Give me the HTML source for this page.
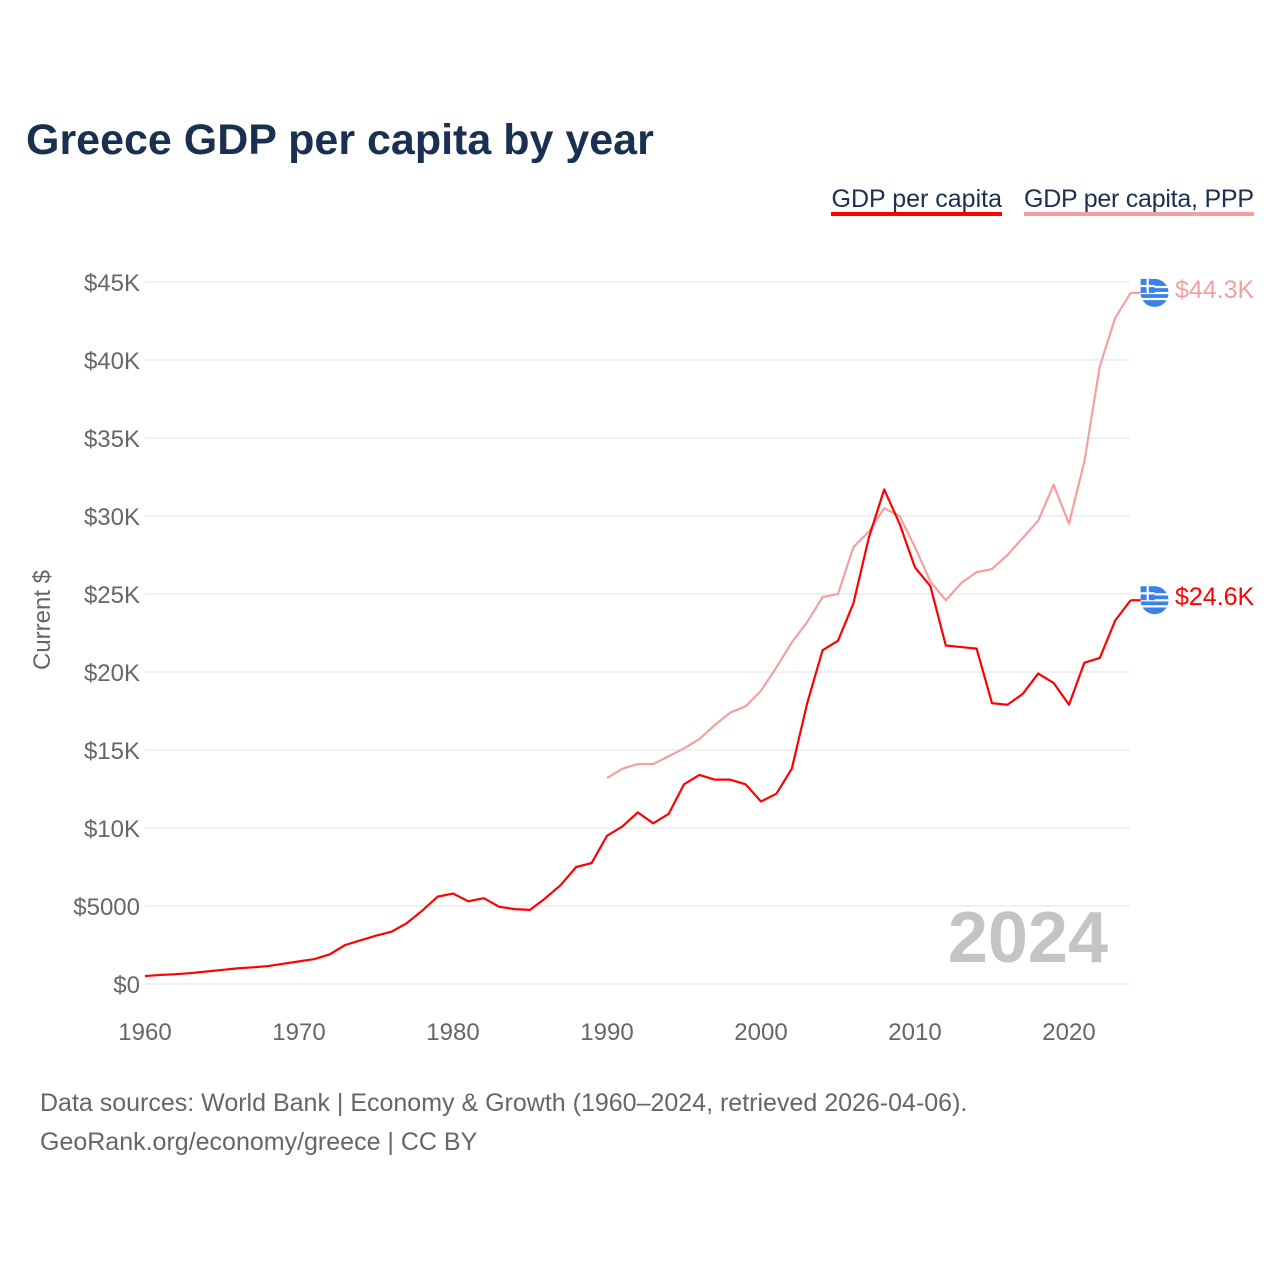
<!DOCTYPE html>
<html><head><meta charset="utf-8"><style>
body{margin:0;background:#fff;font-family:"Liberation Sans",sans-serif;}
#wrap{position:relative;width:1280px;height:1280px;overflow:hidden;}
</style></head><body>
<div id="wrap">
<svg id="svg" width="1280" height="1280" xmlns="http://www.w3.org/2000/svg">
<text x="26" y="154" font-size="43" font-weight="bold" fill="#1b3050" font-family="Liberation Sans, sans-serif">Greece GDP per capita by year</text>
<g><text x="1002" y="207" font-size="25" fill="#1b3050" text-anchor="end">GDP per capita</text><rect x="831" y="212" width="171" height="4" fill="#ff0000"/></g>
<g><text x="1254" y="207" font-size="25" fill="#1b3050" text-anchor="end" textLength="230">GDP per capita, PPP</text><rect x="1024" y="212" width="230" height="4" fill="#f5a0a0"/></g>
<text transform="translate(50,620) rotate(-90)" font-size="24" fill="#666" text-anchor="middle">Current $</text>
<g id="grid"></g><g id="xt"></g><g id="lines"></g>
<text x="1108" y="962" font-size="72" font-weight="bold" fill="#c4c4c4" text-anchor="end">2024</text>
<text x="40" y="1111" font-size="25" fill="#666">Data sources: World Bank | Economy &amp; Growth (1960–2024, retrieved 2026-04-06).</text>
<text x="40" y="1150" font-size="25" fill="#666">GeoRank.org/economy/greece | CC BY</text>
</svg></div>
<script>
const yTicks=[0,5,10,15,20,25,30,35,40,45];
const yLabels=["$0","$5000","$10K","$15K","$20K","$25K","$30K","$35K","$40K","$45K"];
const xTicks=[1960,1970,1980,1990,2000,2010,2020];
const gdpYears=[1960,1961,1962,1963,1964,1965,1966,1967,1968,1969,1970,1971,1972,1973,1974,1975,1976,1977,1978,1979,1980,1981,1982,1983,1984,1985,1986,1987,1988,1989,1990,1991,1992,1993,1994,1995,1996,1997,1998,1999,2000,2001,2002,2003,2004,2005,2006,2007,2008,2009,2010,2011,2012,2013,2014,2015,2016,2017,2018,2019,2020,2021,2022,2023,2024];
const gdpValues=[0.51,0.58,0.63,0.7,0.8,0.9,1.0,1.07,1.15,1.3,1.45,1.6,1.9,2.5,2.8,3.1,3.35,3.9,4.7,5.6,5.8,5.3,5.5,4.95,4.8,4.75,5.5,6.35,7.5,7.75,9.5,10.1,11.0,10.3,10.9,12.8,13.4,13.1,13.1,12.8,11.7,12.2,13.8,18.0,21.4,22.0,24.4,28.6,31.7,29.5,26.7,25.5,21.7,21.6,21.5,18.0,17.9,18.6,19.9,19.3,17.9,20.6,20.9,23.3,24.6];
const pppYears=[1990,1991,1992,1993,1994,1995,1996,1997,1998,1999,2000,2001,2002,2003,2004,2005,2006,2007,2008,2009,2010,2011,2012,2013,2014,2015,2016,2017,2018,2019,2020,2021,2022,2023,2024];
const pppValues=[13.2,13.8,14.1,14.1,14.6,15.1,15.7,16.6,17.4,17.8,18.8,20.3,21.9,23.2,24.8,25.0,28.0,29.0,30.5,30.0,28.0,25.8,24.6,25.7,26.4,26.6,27.5,28.6,29.7,32.0,29.5,33.5,39.6,42.7,44.3];
const NS="http://www.w3.org/2000/svg";
const xS=y=>145+(y-1960)*(1130.6-145)/64;
const yS=v=>984-v*(984-282)/45;
function mk(t,a,p){const e=document.createElementNS(NS,t);for(const k in a)e.setAttribute(k,a[k]);p.appendChild(e);return e;}
const grid=document.getElementById('grid');
yTicks.forEach((v,i)=>{
 const l=mk('line',{x1:145,x2:1130,y1:yS(v),y2:yS(v),stroke:'#e6e6e6','stroke-width':1.2},grid);
 
 
 const t=mk('text',{x:140,y:yS(v)+9,'font-size':24,fill:'#666','text-anchor':'end'},grid);
 t.textContent=yLabels[i];
 
 
});
const xt=document.getElementById('xt');
xTicks.forEach(y=>{
 const t=mk('text',{x:xS(y),y:1040,'font-size':24,fill:'#666','text-anchor':'middle'},xt);
 t.textContent=y;
 
 
});
const lines=document.getElementById('lines');
function series(ys,vs,col,name){
 const p=mk('polyline',{points:ys.map((y,i)=>xS(y)+','+yS(vs[i])).join(' '),fill:'none',stroke:col,'stroke-width':2.2,'stroke-linejoin':'round'},lines);
 
 
 const lx=xS(ys[ys.length-1]),ly=yS(vs[vs.length-1]);
 const g=mk('g',{},lines);
 
 
 mk('line',{x1:lx,x2:lx+10,y1:ly,y2:ly,stroke:col,'stroke-width':2.2},g);
 const cx=lx+24;
 mk('circle',{cx:cx,cy:ly,r:14,fill:'#3b82e8'},g);
 [-6,0,6].forEach(d=>mk('rect',{x:cx-14,y:ly+d-1,width:28,height:2.2,fill:'#fff'},g));
 mk('rect',{x:cx-14,y:ly-14,width:14,height:14,fill:'#3b82e8'},g);
 mk('rect',{x:cx-14,y:ly-8,width:14,height:2.2,fill:'#fff'},g);
 mk('rect',{x:cx-8,y:ly-14,width:2.2,height:14,fill:'#fff'},g);
 const t=mk('text',{x:1175,y:ly+5,'font-size':25,fill:col},lines);
 t.textContent='$'+vs[vs.length-1].toFixed(1)+'K';
 
 
}
series(pppYears,pppValues,'#f5a0a0','ppp');
series(gdpYears,gdpValues,'#ff0000','gdp');
</script>
</body></html>
